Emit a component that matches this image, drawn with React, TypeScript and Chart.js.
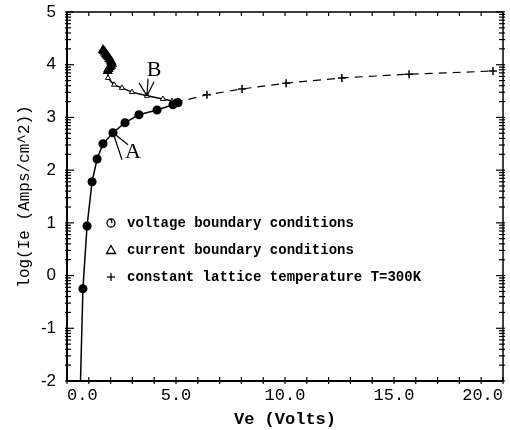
import React, { useEffect, useRef } from 'react';
import { Chart, registerables } from 'chart.js';

Chart.register(...registerables);

// ---- data ----
const voltageVe = [0.6, 0.73, 0.92, 1.15, 1.38, 1.65, 2.11, 2.66, 3.3, 4.13, 4.86, 5.09];
const voltageLogIe = [-2.3, -0.25, 0.94, 1.78, 2.21, 2.5, 2.71, 2.9, 3.05, 3.14, 3.24, 3.28];

const currentVe = [1.65, 1.69, 1.74, 1.79, 1.84, 1.9, 1.95, 2.0, 2.04, 2.06, 2.02, 1.96, 1.9, 1.87, 1.88, 2.16, 2.52, 2.98, 3.67, 4.4, 4.82, 5.05];
const currentLogIe = [4.28, 4.26, 4.23, 4.2, 4.17, 4.14, 4.11, 4.08, 4.05, 4.02, 3.98, 3.95, 3.92, 3.88, 3.75, 3.62, 3.56, 3.48, 3.41, 3.35, 3.31, 3.27];
const currentBlobCount = 14; // leading points that merge into a solid blob

const latticeVe = [4.95, 6.42, 8.03, 10.05, 12.61, 15.69, 19.54];
const latticeLogIe = [3.28, 3.43, 3.54, 3.65, 3.75, 3.82, 3.88];

const xTickLabels = ['0.0', '5.0', '10.0', '15.0', '20.0'];
const legendLabels = [
  'voltage boundary conditions',
  'current boundary conditions',
  'constant lattice temperature T=300K',
];
const X_MIN = 0, X_MAX = 20, Y_MIN = -2, Y_MAX = 5;
const A_INDEX = 6; // voltage curve point labelled A
const B_INDEX = 18; // current curve point labelled B

const toPoints = (xs: number[], ys: number[]) => xs.map((x, i) => ({ x, y: ys[i] }));

const decoPlugin = {
  id: 'deco',
  afterDatasetsDraw(chart: any) {
    const { ctx, chartArea, scales } = chart;
    const { left, right, top, bottom } = chartArea;
    const xs = scales.x, ys = scales.y;
    const line = (x1: number, y1: number, x2: number, y2: number) => {
      ctx.beginPath(); ctx.moveTo(x1, y1); ctx.lineTo(x2, y2); ctx.stroke();
    };
    ctx.save();
    ctx.strokeStyle = '#000';
    ctx.fillStyle = '#000';
    ctx.setLineDash([]);
    // frame
    ctx.lineWidth = 1.5;
    ctx.strokeRect(left, top, right - left, bottom - top);
    ctx.lineWidth = 2;
    ctx.beginPath(); ctx.moveTo(left, top); ctx.lineTo(left, bottom); ctx.lineTo(right, bottom); ctx.stroke();
    // x ticks
    ctx.lineWidth = 1.2;
    for (let v = X_MIN; v <= X_MAX; v++) {
      const px = xs.getPixelForValue(v);
      line(px, bottom - 4, px, bottom + 3);
      line(px, top, px, top + 4);
    }
    // y ticks (log-style minor ticks)
    for (let n = Y_MIN; n <= Y_MAX; n++) {
      for (let k = 1; k <= 9; k++) {
        const val = n + Math.log10(k);
        if (val > Y_MAX + 1e-9) break;
        const py = ys.getPixelForValue(val);
        const len = k === 1 ? 7 : 4;
        line(left - 2, py, left + len, py);
        line(right - len, py, right + 2, py);
      }
    }
    // legend
    const lx = 111, tx = 127, rows = [223, 250, 277];
    ctx.lineWidth = 1.3;
    ctx.beginPath(); ctx.arc(lx, rows[0], 4, 0, Math.PI * 2); ctx.stroke();
    line(lx, rows[0] - 4, lx + 1, rows[0]);
    ctx.beginPath();
    ctx.moveTo(lx, rows[1] - 4.5); ctx.lineTo(lx + 4.5, rows[1] + 3.5); ctx.lineTo(lx - 4.5, rows[1] + 3.5); ctx.closePath(); ctx.stroke();
    line(lx - 4, rows[2], lx + 4, rows[2]);
    line(lx, rows[2] - 4, lx, rows[2] + 4);
    ctx.font = 'bold 14px "Liberation Mono"';
    ctx.textBaseline = 'middle';
    ctx.textAlign = 'left';
    legendLabels.forEach((t, i) => ctx.fillText(t, tx, rows[i]));
    // annotation A
    ctx.lineWidth = 1.2;
    const ax = xs.getPixelForValue(voltageVe[A_INDEX]);
    const ay = ys.getPixelForValue(voltageLogIe[A_INDEX]);
    line(ax, ay, ax + 9, ay + 27);
    line(ax, ay, ax + 15, ay + 12);
    ctx.font = '22px "Liberation Serif"';
    ctx.textAlign = 'center';
    ctx.fillText('A', ax + 20, ay + 20);
    // annotation B
    const bx = xs.getPixelForValue(currentVe[B_INDEX]);
    const by = ys.getPixelForValue(currentLogIe[B_INDEX]);
    line(bx, by, bx - 8, by - 13);
    line(bx, by, bx + 1, by - 17);
    line(bx, by, bx + 7, by - 14);
    ctx.fillText('B', bx + 7, by - 26);
    ctx.restore();
  },
};

export default function App() {
  const ref = useRef<HTMLCanvasElement | null>(null);
  useEffect(() => {
    if (!ref.current) return;
    const chart = new Chart(ref.current, {
      type: 'scatter',
      data: {
        datasets: [
          {
            label: 'voltage',
            data: toPoints(voltageVe, voltageLogIe),
            showLine: true,
            borderColor: '#000',
            borderWidth: 1.5,
            pointStyle: 'circle',
            pointRadius: voltageVe.map((_, i) => (i === 0 ? 0 : 3.8)),
            pointBackgroundColor: '#000',
            pointBorderColor: '#000',
          },
          {
            label: 'current',
            data: toPoints(currentVe, currentLogIe),
            showLine: true,
            borderColor: '#000',
            borderWidth: 1.5,
            pointStyle: 'triangle',
            pointRadius: currentVe.map((_, i) => (i < currentBlobCount ? 4 : 3)),
            pointBackgroundColor: currentVe.map((_, i) => (i < currentBlobCount ? '#000' : '#fff')),
            pointBorderColor: '#000',
            pointBorderWidth: currentVe.map((_, i) => (i < currentBlobCount ? 2 : 1)),
          },
          {
            label: 'lattice',
            data: toPoints(latticeVe, latticeLogIe),
            showLine: true,
            borderColor: '#000',
            borderWidth: 1.2,
            borderDash: [8, 6],
            pointStyle: 'cross',
            pointRadius: 4,
            pointBorderWidth: 1.5,
            pointBorderColor: '#000',
          },
        ],
      },
      options: {
        responsive: false,
        animation: false,
        layout: { padding: { top: 12, right: 7, left: 0, bottom: 0 } },
        plugins: { legend: { display: false }, tooltip: { enabled: false } },
        scales: {
          x: {
            type: 'linear',
            min: X_MIN,
            max: X_MAX,
            afterBuildTicks: (s: any) => {
              s.ticks = xTickLabels.map((t) => ({ value: parseFloat(t) }));
            },
            ticks: {
              align: 'inner',
              autoSkip: false,
              maxRotation: 0,
              padding: 4,
              color: '#000',
              font: { family: 'Liberation Mono', size: 17 },
              callback: (v: any) => xTickLabels.find((t) => parseFloat(t) === v) ?? '',
            },
            grid: { display: false, drawTicks: false },
            border: { display: false },
            title: {
              display: true,
              text: 'Ve (Volts)',
              color: '#000',
              font: { family: 'Liberation Mono', size: 17, weight: 'bold' },
              padding: { top: 0, bottom: 0 },
            },
            afterFit: (s: any) => { s.height = 49; s.paddingLeft = 0; s.paddingRight = 0; },
          },
          y: {
            type: 'linear',
            min: Y_MIN,
            max: Y_MAX,
            ticks: {
              stepSize: 1,
              padding: 11,
              color: '#000',
              font: { family: 'Liberation Sans', size: 17 },
            },
            grid: { display: false, drawTicks: false },
            border: { display: false },
            title: {
              display: true,
              text: 'log(Ie (Amps/cm^2))',
              color: '#000',
              font: { family: 'Liberation Mono', size: 16 },
              padding: { top: 15, bottom: 0 },
            },
            afterFit: (s: any) => { s.width = 67; s.paddingTop = 0; s.paddingBottom = 0; },
          },
        },
      },
      plugins: [decoPlugin],
    });
    return () => chart.destroy();
  }, []);
  return (
    <div style={{ position: 'absolute', left: 0, top: 0, width: 510, height: 430, background: '#fff' }}>
      <canvas ref={ref} width={510} height={430} />
    </div>
  );
}
